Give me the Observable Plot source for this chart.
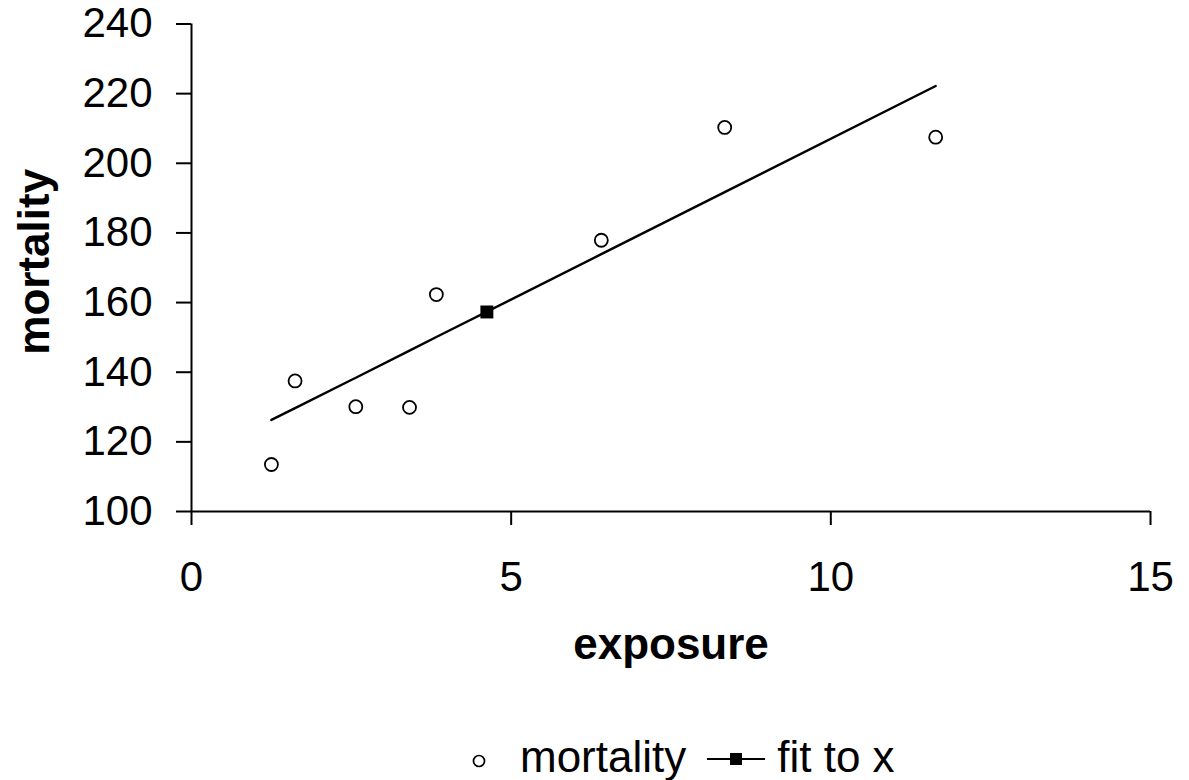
<!DOCTYPE html>
<html><head><meta charset="utf-8">
<script src="https://cdn.jsdelivr.net/npm/d3@7"></script>
<script src="https://cdn.jsdelivr.net/npm/@observablehq/plot@0.6"></script>
<style>
html,body{margin:0;padding:0;background:#fff;overflow:hidden;}
body{font-family:"Liberation Sans",Arial,sans-serif;color:#000;width:1189px;height:780px;}
#legend{height:50px;padding-top:5px;box-sizing:border-box;display:flex;align-items:flex-start;padding-left:470px;font-size:44px;line-height:44px;}
#legend .item{display:flex;align-items:center;}
#legend svg{display:block;}
svg [aria-label="x-axis label"] text{font-weight:bold;font-size:44px;}
</style></head><body>
<div id="chart"></div>
<div id="legend"></div>
<script>
// observed data (circles)
const exposure = [1.25, 1.62, 2.57, 3.41, 3.83, 6.41, 8.34, 11.64];
const mortality = [113.5, 137.5, 130.1, 129.9, 162.3, 177.9, 210.3, 207.5];
// fitted line values ("fit to x")
const fitX = [1.25, 1.62, 2.49, 2.57, 3.41, 3.83, 6.41, 8.34, 11.64];
const fitY = [126.3, 129.7, 137.7, 138.4, 146.2, 150.1, 173.9, 191.7, 222.2];
// marked point on fit (mean)
const markX = [4.62];
const markY = [157.3];
const xTicks = [0, 5, 10, 15];
const yTicks = [100, 120, 140, 160, 180, 200, 220, 240];
const xTitle = "exposure";
const yTitle = "mortality";

const points = exposure.map((x, i) => ({x, y: mortality[i]}));
const fit = fitX.map((x, i) => ({x, y: fitY[i]}));
const mark = markX.map((x, i) => ({x, y: markY[i]}));

const chart = Plot.plot({
  width: 1189,
  height: 730,
  marginLeft: 191,
  marginRight: 39,
  marginTop: 23.5,
  marginBottom: 219,
  x: {domain: [0, 15]},
  y: {domain: [100, 240]},
  style: {fontFamily: '"Liberation Sans", Arial, sans-serif', fontSize: "42px", color: "#000", background: "#fff", overflow: "visible"},
  marks: [
    Plot.axisX({ticks: xTicks, tickSize: 14, tickPadding: 36, tickFormat: d => String(d), strokeWidth: 2,
      label: xTitle, labelAnchor: "center", labelArrow: "none", labelOffset: 147}),
    Plot.axisY({ticks: yTicks, tickSize: 15, tickPadding: 24, tickFormat: d => String(d), strokeWidth: 2, label: null}),
    Plot.text([yTitle], {frameAnchor: "left", rotate: -90, lineAnchor: "top", textAnchor: "middle",
      dx: -174, dy: -6, fontSize: 44, fontWeight: "bold", fill: "#000"}),
    Plot.ruleX([0], {stroke: "#000", strokeWidth: 2}),
    Plot.ruleY([100], {stroke: "#000", strokeWidth: 2}),
    Plot.line(fit, {x: "x", y: "y", stroke: "#000", strokeWidth: 2.4}),
    Plot.dot(points, {x: "x", y: "y", r: 6.5, stroke: "#000", strokeWidth: 1.8, fill: "#fff"}),
    Plot.dot(mark, {x: "x", y: "y", symbol: "square", r: 7.3, fill: "#000", stroke: "none"})
  ]
});
document.getElementById("chart").appendChild(chart);

const legend = document.getElementById("legend");
legend.innerHTML = `
  <div class="item"><svg width="18" height="44"><circle cx="9" cy="26" r="5.5" fill="#fff" stroke="#000" stroke-width="1.7"/></svg></div>
  <div class="item" style="margin-left:32px">mortality</div>
  <div class="item" style="margin-left:21px"><svg width="58" height="44"><line x1="0" x2="58" y1="24" y2="24" stroke="#000" stroke-width="2"/><rect x="23" y="18" width="12" height="12" fill="#000"/></svg></div>
  <div class="item" style="margin-left:12px">fit to x</div>`;
</script>
</body></html>
